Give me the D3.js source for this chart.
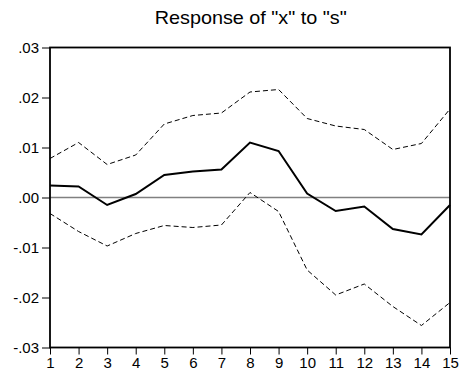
<!DOCTYPE html>
<html>
<head>
<meta charset="utf-8">
<script src="https://cdn.jsdelivr.net/npm/d3@7"></script>
<style>
  html, body { margin: 0; padding: 0; background: #fff; }
  svg { display: block; font-family: "Liberation Sans", Arial, sans-serif; }
</style>
</head>
<body>
<svg id="chart" width="462" height="376"></svg>
<script>
// Impulse response with ±2 S.E. bands
const periods = [1, 2, 3, 4, 5, 6, 7, 8, 9, 10, 11, 12, 13, 14, 15];
const response = [0.0024, 0.0022, -0.0015, 0.0007, 0.0045, 0.0052, 0.0056, 0.0110, 0.0093, 0.0008, -0.0027, -0.0018, -0.0063, -0.0074, -0.0015];
const upperBand = [0.0078, 0.0110, 0.0066, 0.0085, 0.0147, 0.0164, 0.0169, 0.0211, 0.0216, 0.0158, 0.0143, 0.0136, 0.0096, 0.0108, 0.0177];
const lowerBand = [-0.0032, -0.0068, -0.0097, -0.0072, -0.0056, -0.0060, -0.0055, 0.0010, -0.0028, -0.0145, -0.0195, -0.0173, -0.0218, -0.0256, -0.0210];
const yTicks = [-0.03, -0.02, -0.01, 0.00, 0.01, 0.02, 0.03];
const yTickLabels = ["-.03", "-.02", "-.01", ".00", ".01", ".02", ".03"];
const title = 'Response of "x" to "s"';

const svg = d3.select("#chart");
const margin = { left: 50, right: 12, top: 47.5, bottom: 28.5 };
const W = 462, H = 376;

const x = d3.scaleLinear().domain([1, 15]).range([margin.left, W - margin.right]);
const y = d3.scaleLinear().domain([-0.03, 0.03]).range([H - margin.bottom, margin.top]);

// zero reference line
svg.append("line")
  .attr("x1", x(1)).attr("x2", x(15))
  .attr("y1", y(0)).attr("y2", y(0))
  .attr("stroke", "#808080").attr("stroke-width", 1.6);

const line = d3.line().x((d, i) => x(periods[i])).y(d => y(d));

// confidence bands
[upperBand, lowerBand].forEach(band => {
  svg.append("path")
    .attr("d", line(band))
    .attr("fill", "none")
    .attr("stroke", "#000")
    .attr("stroke-width", 1)
    .attr("stroke-dasharray", "5,3");
});

// response
svg.append("path")
  .attr("d", line(response))
  .attr("fill", "none")
  .attr("stroke", "#000")
  .attr("stroke-width", 2)
  .attr("stroke-linejoin", "miter");

// frame
svg.append("rect")
  .attr("x", x(1)).attr("y", y(0.03))
  .attr("width", x(15) - x(1)).attr("height", y(-0.03) - y(0.03))
  .attr("fill", "none").attr("stroke", "#000").attr("stroke-width", 1.8);

// y axis
const yAxis = d3.axisLeft(y)
  .tickValues(yTicks)
  .tickSize(8)
  .tickPadding(3)
  .tickFormat((d, i) => yTickLabels[i]);
const gy = svg.append("g").attr("transform", `translate(${x(1)},0)`).call(yAxis);
gy.select(".domain").remove();
gy.selectAll("line").attr("stroke", "#000").attr("stroke-width", 1);
gy.selectAll("text").attr("font-size", 15).attr("fill", "#000")
  .attr("font-family", "Liberation Sans, Arial, sans-serif");

// x axis
const xAxis = d3.axisBottom(x)
  .tickValues(periods)
  .tickSize(7)
  .tickPadding(3)
  .tickFormat(d3.format("d"));
const gx = svg.append("g").attr("transform", `translate(0,${y(-0.03)})`).call(xAxis);
gx.select(".domain").remove();
gx.selectAll("line").attr("stroke", "#000").attr("stroke-width", 1);
gx.selectAll("text").attr("font-size", 15).attr("fill", "#000")
  .attr("font-family", "Liberation Sans, Arial, sans-serif");

// title
svg.append("text")
  .attr("transform", "translate(250.7,24.3) scale(1.1,1)")
  .attr("text-anchor", "middle")
  .attr("font-size", 18)
  .attr("fill", "#000")
  .text(title);
</script>
</body>
</html>
